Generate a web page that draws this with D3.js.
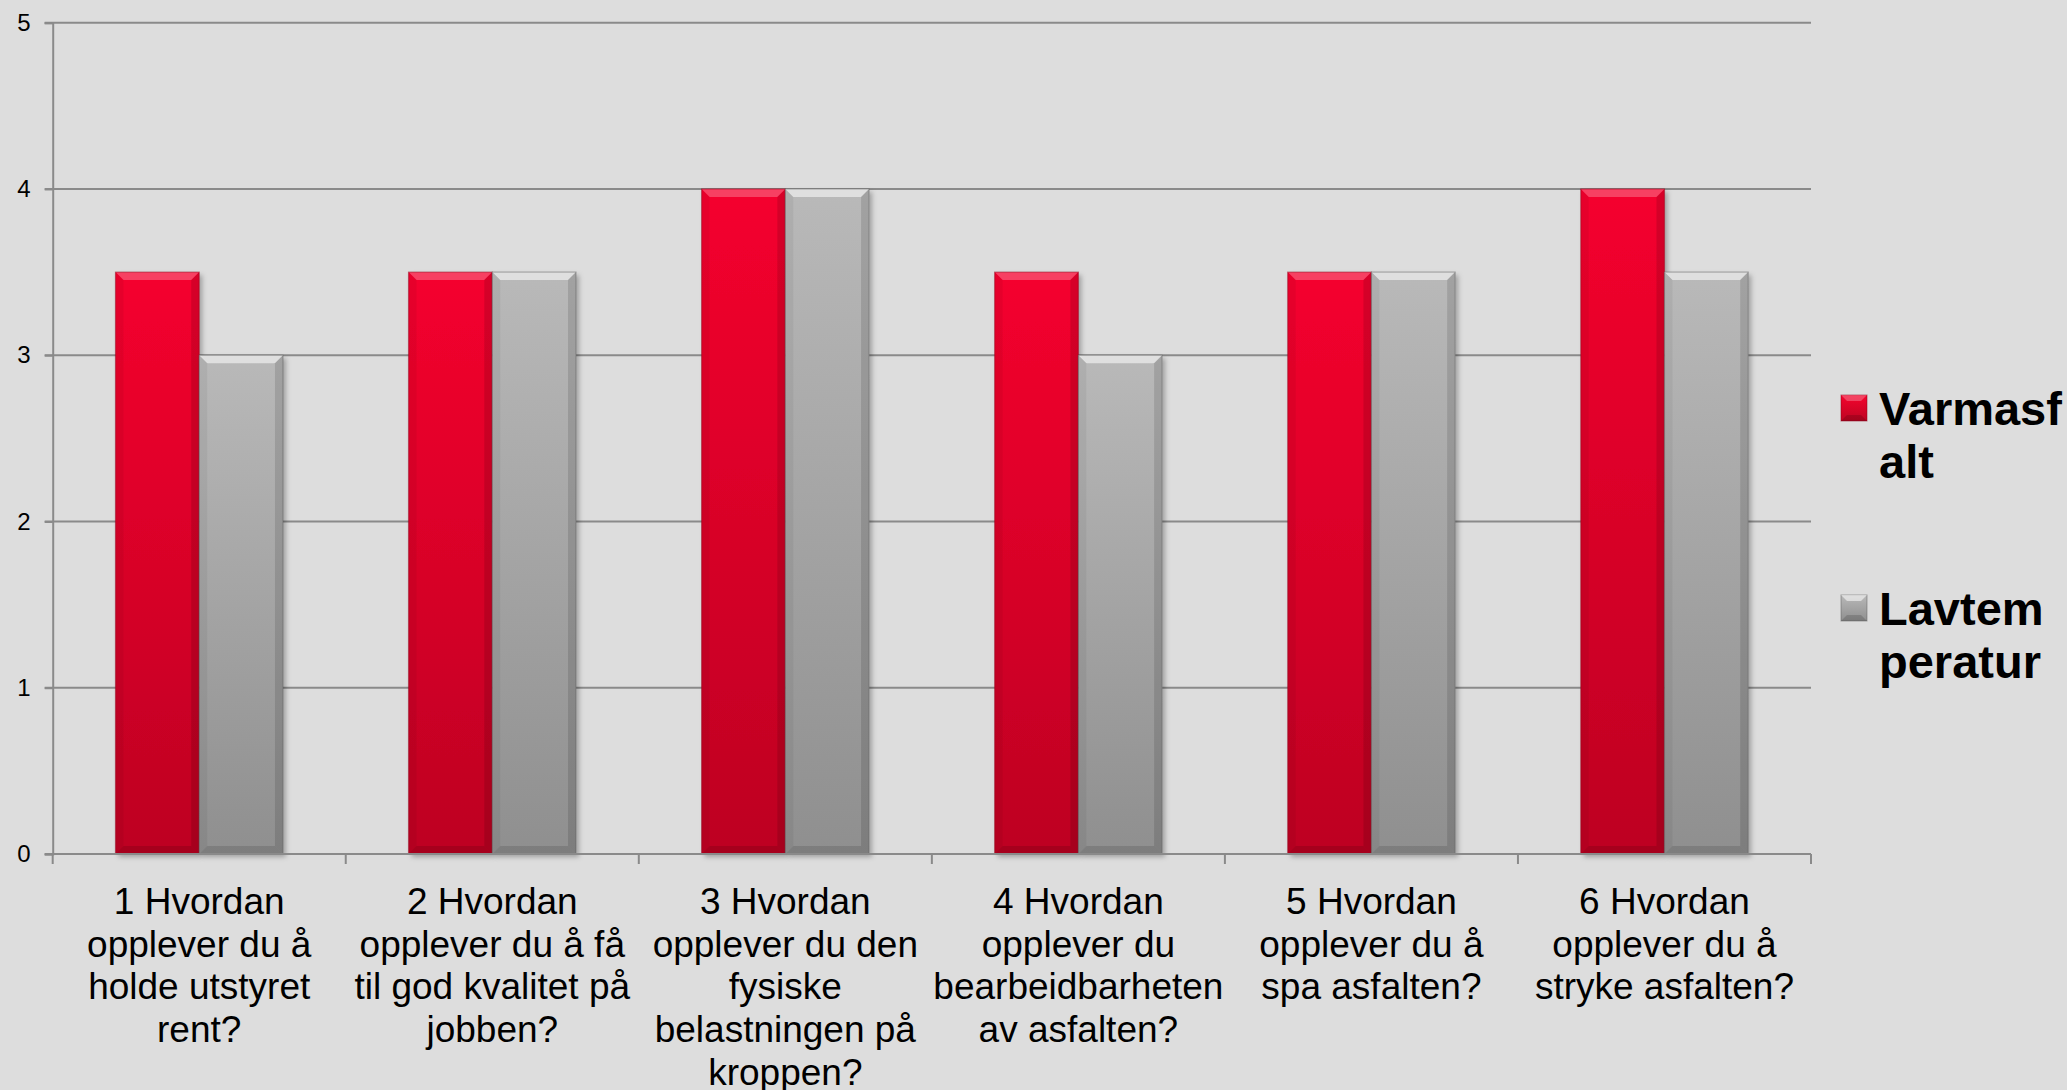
<!DOCTYPE html>
<html><head><meta charset="utf-8">
<script src="https://cdn.jsdelivr.net/npm/d3@7"></script>
<style>
html,body{margin:0;padding:0;background:#dddddd;overflow:hidden}
svg{display:block}
text{font-family:"Liberation Sans",Arial,sans-serif}
</style></head><body>
<svg id="chart" width="2067" height="1090"></svg>
<script>
const categories = ["1","2","3","4","5","6"];
const categoryLabels = [
  ["1 Hvordan","opplever du å","holde utstyret","rent?"],
  ["2 Hvordan","opplever du å få","til god kvalitet på","jobben?"],
  ["3 Hvordan","opplever du den","fysiske","belastningen på","kroppen?"],
  ["4 Hvordan","opplever du","bearbeidbarheten","av asfalten?"],
  ["5 Hvordan","opplever du å","spa asfalten?"],
  ["6 Hvordan","opplever du å","stryke asfalten?"]
];
const seriesNames = ["Varmasfalt","Lavtemperatur"];
const legendLines = [["Varmasf","alt"],["Lavtem","peratur"]];
const varmasfalt = [3.5,3.5,4,3.5,3.5,4];
const lavtemperatur = [3,3.5,4,3,3.5,3.5];
const yTicks = [0,1,2,3,4,5];

(function(){
const W=2067,H=1090;
const mL=52.7,mR=1811,mT=22.7,mB=854;
const svg=d3.select("#chart");
svg.append("rect").attr("width",W).attr("height",H).attr("fill","#dddddd");

const defs=svg.append("defs");
function grad(id,c1,c2){
  const g=defs.append("linearGradient").attr("id",id).attr("x1",0).attr("y1",0).attr("x2",0).attr("y2",1);
  g.append("stop").attr("offset","0%").attr("stop-color",c1);
  g.append("stop").attr("offset","100%").attr("stop-color",c2);
}
grad("gRed","#f5052e","#bd0422");
grad("gGray","#b9b9b9","#8f8f8f");
const f=defs.append("filter").attr("id","sh").attr("x","-10%").attr("y","-10%").attr("width","130%").attr("height","130%");
f.append("feDropShadow").attr("dx",3).attr("dy",3).attr("stdDeviation",2.5).attr("flood-color","#000").attr("flood-opacity",0.28);

const p=1.5/3.5;
const x0=d3.scaleBand().domain(categories).range([mL,mR]).paddingInner(p).paddingOuter(p/2);
const x1=d3.scaleBand().domain(seriesNames).range([0,x0.bandwidth()]).padding(0);
const y=d3.scaleLinear().domain([0,5]).range([mB,mT]);

svg.append("g").selectAll("line").data(yTicks).join("line")
  .attr("x1",mL-8).attr("x2",mR).attr("y1",d=>y(d)).attr("y2",d=>y(d))
  .attr("stroke","#8a8a8a").attr("stroke-width",2);

const ya=svg.append("g").attr("transform",`translate(${mL},0)`)
  .call(d3.axisLeft(y).tickValues(yTicks).tickSize(8).tickPadding(14).tickFormat(d3.format("d")));
ya.select(".domain").attr("stroke","#8a8a8a").attr("stroke-width",2);
ya.selectAll(".tick line").attr("stroke","#8a8a8a").attr("stroke-width",2);
ya.selectAll(".tick text").attr("font-size",24).attr("fill","#000").attr("font-family","Liberation Sans, Arial, sans-serif");

const data=categories.map((c,i)=>({c,vals:[{s:seriesNames[0],v:varmasfalt[i]},{s:seriesNames[1],v:lavtemperatur[i]}]}));
const fills={"Varmasfalt":"url(#gRed)","Lavtemperatur":"url(#gGray)"};
const edges={"Varmasfalt":["#ff6a80","#8f0018"],"Lavtemperatur":["#f4f4f4","#5f5f5f"]};
const groups=svg.append("g").selectAll("g").data(data).join("g")
  .attr("transform",d=>`translate(${x0(d.c)},0)`);
const bars=groups.selectAll("g").data(d=>d.vals).join("g")
  .attr("transform",d=>`translate(${x1(d.s)},${y(d.v)})`);
bars.append("rect").attr("width",x1.bandwidth()).attr("height",d=>y(0)-y(d.v))
  .attr("fill",d=>fills[d.s]).attr("filter","url(#sh)");
const b=8;
bars.each(function(d){
  const g=d3.select(this), w=x1.bandwidth(), h=y(0)-y(d.v);
  g.append("path").attr("d",`M0,0 L${w},0 L${w-b},${b} L${b},${b} Z`).attr("fill","#fff").attr("opacity",d.s==="Lavtemperatur"?0.55:0.25);
  g.append("path").attr("d",`M0,0 L${b},${b} L${b},${h-b} L0,${h} Z`).attr("fill","#000").attr("opacity",0.05);
  g.append("path").attr("d",`M${w},0 L${w},${h} L${w-b},${h-b} L${w-b},${b} Z`).attr("fill","#000").attr("opacity",0.12);
  g.append("path").attr("d",`M0,${h} L${b},${h-b} L${w-b},${h-b} L${w},${h} Z`).attr("fill","#000").attr("opacity",0.12);
  g.append("rect").attr("width",w).attr("height",h).attr("fill","none").attr("stroke",edges[d.s][1]).attr("stroke-opacity",0.45).attr("stroke-width",1.2);
});

svg.append("line").attr("x1",mL).attr("x2",mR).attr("y1",mB).attr("y2",mB).attr("stroke","#8a8a8a").attr("stroke-width",2);
const bounds=categories.map(c=>x0(c)-x0.step()*p/2).concat([mR]);
svg.append("g").selectAll("line").data(bounds).join("line")
  .attr("x1",d=>d).attr("x2",d=>d).attr("y1",mB).attr("y2",mB+10)
  .attr("stroke","#8a8a8a").attr("stroke-width",2);

const lab=svg.append("g").selectAll("text").data(categories).join("text")
  .attr("text-anchor","middle").attr("font-size",37).attr("fill","#000")
  .attr("x",c=>x0(c)+x0.bandwidth()/2).attr("y",914);
lab.each(function(c,i){
  d3.select(this).selectAll("tspan").data(categoryLabels[i]).join("tspan")
    .attr("x",x0(c)+x0.bandwidth()/2).attr("dy",(d,j)=>j===0?0:42.7).text(d=>d);
});

const leg=svg.append("g");
const legY=[395,595];
const legFill=["url(#gRed)","url(#gGray)"];
seriesNames.forEach((s,i)=>{
  const g=leg.append("g").attr("transform",`translate(1841,${legY[i]})`);
  g.append("rect").attr("width",26).attr("height",26).attr("fill",legFill[i]).attr("stroke",edges[s][1]).attr("stroke-opacity",0.5);
  g.append("path").attr("d","M0,0 L26,0 L20,6 L6,6 Z").attr("fill","#fff").attr("opacity",i===1?0.55:0.25);
  g.append("path").attr("d","M0,26 L6,20 L20,20 L26,26 Z").attr("fill","#000").attr("opacity",0.15);
  const t=g.append("text").attr("x",38).attr("y",30).attr("font-size",47).attr("font-weight","bold").attr("fill","#000");
  t.selectAll("tspan").data(legendLines[i]).join("tspan").attr("x",38).attr("dy",(d,j)=>j===0?0:53).text(d=>d);
});
})();
</script>
</body></html>
